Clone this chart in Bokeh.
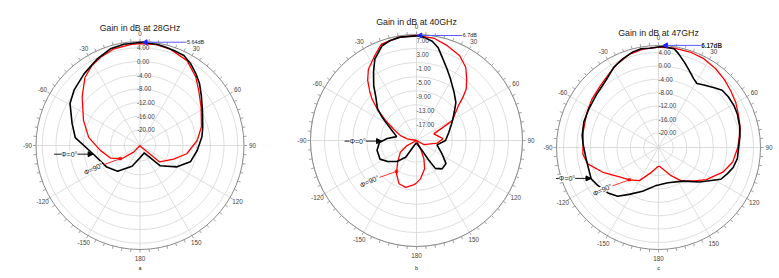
import numpy as np
from bokeh.plotting import figure
from bokeh.models import Range1d, Arrow, NormalHead, Label
from bokeh.core.properties import value
from bokeh.embed import file_html
from bokeh.resources import INLINE

# ---------------- data ----------------
titles = ["Gain in dB at 28GHz", "Gain in dB at 40GHz", "Gain in dB at 47GHz"]
panel_letters = ["a", "b", "c"]
series_names = ["\u03a6=0\u00b0", "\u03a6=90\u00b0"]
max_gain_db = [5.64, 6.7, 6.17]
max_gain_angle = [2, 1, 3]
max_gain_labels = ["5.64dB", "6.7dB", "6.17dB"]
ring_values_a = [-20, -16, -12, -8, -4, 0, 4]
ring_values_b = [-17, -13, -9, -5, -1, 3, 7]
ring_values_c = [-20, -16, -12, -8, -4, 0, 4]
angle_ticks = [-150, -120, -90, -60, -30, 0, 30, 60, 90, 120, 150, 180]

# 28 GHz
a_phi0_angle = [-180, -159, -139, -123, -101, -83, -72, -59, -50, -38, -26, -17, -9, 1, 10, 14, 20, 26, 32, 38, 44, 51, 61, 74, 82, 95, 108, 120, 135, 150, 180]
a_phi0_db = [-21.0, -18.1, -14.6, -13.0, -10.8, -5.5, -3.7, -0.7, 0.6, 2.0, 3.7, 5.0, 5.4, 5.6, 5.4, 5.2, 4.9, 4.7, 3.5, 2.0, 0.5, -1.5, -3.7, -5.5, -6.3, -7.8, -9.1, -12.1, -16.2, -22.1, -21.0]
a_phi90_angle = [-180, -150, -136, -126, -113, -97, -81, -66, -50, -39, -31, -24, -15, -5, 0, 9, 17, 29, 39, 47, 58, 73, 85, 100, 112, 130, 140, 150, 180]
a_phi90_db = [-25.0, -25.0, -21.9, -18.1, -15.2, -12.9, -9.4, -6.5, -2.5, 1.0, 2.7, 3.7, 4.7, 5.1, 5.2, 5.3, 5.0, 3.8, 1.3, -1.1, -3.5, -5.8, -7.8, -10.7, -14.0, -17.1, -24.0, -25.0, -25.0]

# 40 GHz
b_phi0_angle = [-180, -155, -147, -137, -126, -117, -104, -93, -86, -79, -71, -62, -56, -51, -43, -38, -32, -27, -20, -15, -9, 0, 4, 9, 13, 17, 23, 29, 38, 46, 53, 63, 76, 90, 102, 118, 128, 138, 146, 148, 151, 165, 180]
b_phi0_db = [-22.5, -21.5, -17.5, -15.0, -13.0, -11.5, -11.6, -12.6, -14.8, -17.4, -16.3, -14.0, -11.4, -8.9, -6.2, -3.4, -0.1, 2.9, 5.5, 6.2, 6.6, 6.6, 6.3, 5.4, 4.0, 1.7, -1.0, -3.2, -5.8, -7.6, -9.7, -11.8, -13.7, -14.9, -17.2, -14.9, -12.5, -12.3, -13.6, -16.5, -19.9, -22.0, -22.5]
b_phi90_angle = [-180, -177, -167, -158, -149, -139, -126, -118, -100, -80, -73, -64, -57, -52, -47, -44, -39, -34, -26, -20, -10, 0, 10, 18, 27, 34, 39, 44, 47, 50, 61, 69, 86, 97, 119, 140, 154, 158, 164, 174, 180]
b_phi90_db = [-11.1, -10.6, -9.5, -9.9, -12.1, -15.0, -17.5, -20.1, -23.5, -20.5, -18.4, -16.0, -12.7, -9.3, -5.9, -4.1, -1.1, 1.3, 3.8, 6.0, 6.6, 6.7, 6.3, 5.2, 3.9, 1.9, -0.5, -2.8, -5.1, -7.5, -11.5, -17.9, -15.6, -17.2, -20.8, -23.5, -20.5, -17.5, -14.8, -12.2, -11.1]

# 47 GHz
c_phi0_angle = [-180, -176, -160, -148, -140, -132, -122, -115, -99, -87, -81, -71, -61, -49, -38, -29, -22, -15, -10, -5, 2, 9, 12, 17, 22, 27, 31, 36, 43, 48, 54, 61, 67, 75, 82, 89, 98, 105, 111, 117, 130, 144, 165, 180]
c_phi0_db = [-13.2, -13.0, -10.5, -7.9, -5.4, -4.1, -3.0, -2.2, -2.5, -1.8, -1.3, -0.8, -0.6, 0.0, 1.1, 3.1, 4.2, 5.2, 5.6, 5.4, 5.8, 5.5, 4.3, 2.2, 0.3, -1.3, -2.1, -1.3, 0.05, 1.2, 1.4, 1.4, 1.2, 0.7, 0.2, -0.4, -0.6, -1.3, -2.4, -3.5, -8.4, -12.0, -13.5, -13.2]
c_phi90_angle = [-180, -174, -164, -150, -138, -127, -114, -103, -95, -78, -64, -54, -43, -33, -26, -17, -9, 0, 9, 19, 27, 36, 44, 52, 60, 68, 77, 90, 101, 111, 124, 133, 146, 156, 177, 180]
c_phi90_db = [-18.8, -18.3, -16.7, -13.0, -11.4, -9.8, -6.2, -2.7, -1.7, -1.4, -0.6, 0.2, 1.0, 2.3, 3.5, 4.8, 5.4, 5.6, 5.65, 5.65, 5.4, 4.7, 3.9, 3.05, 2.3, 1.4, 0.7, -0.7, -1.8, -3.8, -7.2, -9.8, -12.5, -15.2, -18.8, -18.8]

# ---------------- layout (pixel geometry of each polar panel) ----------------
W, H = 779, 278
panels = [
    dict(cx=139.5, cy=145, R=104, k=3.417, dbmin=-24.6, lab_dx=-3, lab_off=0.0, title_y=27,
         rings=ring_values_a, phi0=(a_phi0_angle, a_phi0_db), phi90=(a_phi90_angle, a_phi90_db),
         mk_len=43, arrow_ang=-100.5, arrow_len=39, m90_ang=-124),
    dict(cx=416, cy=140, R=106, k=3.517, dbmin=-23.16, lab_dx=0, lab_off=5.7, title_y=21.7,
         rings=ring_values_b, phi0=(b_phi0_angle, b_phi0_db), phi90=(b_phi90_angle, b_phi90_db),
         mk_len=44, arrow_ang=-91, arrow_len=37, m90_ang=-147),
    dict(cx=658, cy=147, R=102, k=3.34, dbmin=-24.44, lab_dx=0, lab_off=0.0, title_y=32.3,
         rings=ring_values_c, phi0=(c_phi0_angle, c_phi0_db), phi90=(c_phi90_angle, c_phi90_db),
         mk_len=37, arrow_ang=-114.6, arrow_len=35, m90_ang=-138),
]

FONT = "Liberation Sans"
GRID = "#d6d6d6"
AXC = "#8a8a8a"
TXT = "#444444"

p = figure(width=W, height=H, x_range=Range1d(0, W), y_range=Range1d(0, H),
           output_backend="svg", toolbar_location=None, min_border=0)
p.axis.visible = False
p.grid.visible = False
p.outline_line_color = None
p.background_fill_color = "white"
p.border_fill_color = "white"


def rad(db, P):
    return np.clip((np.asarray(db, float) - P["dbmin"]) * P["k"], 0, None)


def pxy(ang, r, P):
    t = np.radians(np.asarray(ang, float))
    return P["cx"] + r * np.sin(t), (H - P["cy"]) + r * np.cos(t)


for i, P in enumerate(panels):
    cx, cyu, R = P["cx"], H - P["cy"], P["R"]

    # rings
    ring_r = rad(P["rings"], P)
    p.circle(x=[cx] * len(ring_r), y=[cyu] * len(ring_r), radius=list(ring_r),
             fill_color=None, line_color=GRID, line_width=0.8)
    # spokes
    sp = np.arange(0, 360, 30)
    x1, y1 = pxy(sp, R, P)
    p.segment(x0=[cx] * len(sp), y0=[cyu] * len(sp), x1=x1, y1=y1, line_color=GRID, line_width=0.8)
    # outer circle + ticks
    p.circle(x=[cx], y=[cyu], radius=[R], fill_color=None, line_color=AXC, line_width=1)
    tk = np.arange(0, 360, 5)
    tx0, ty0 = pxy(tk, R, P)
    tx1, ty1 = pxy(tk, R + 3, P)
    p.segment(x0=tx0, y0=ty0, x1=tx1, y1=ty1, line_color=AXC, line_width=0.8)
    # angle labels
    ax, ay = pxy(angle_ticks, R + 8.5, P)
    p.text(x=ax, y=ay, text=[str(a) for a in angle_ticks], text_font=value(FONT),
           text_font_size=value("6.3px"), text_align="center", text_baseline="middle", text_color=TXT)
    # ring labels
    p.text(x=[cx + P["lab_dx"]] * len(ring_r), y=list(cyu + ring_r - P["lab_off"]),
           text=["%.2f" % v for v in P["rings"]], text_font=value(FONT),
           text_font_size=value("6.3px"), text_align="left", text_baseline="middle", text_color=TXT)
    # title and panel letter
    p.text(x=[cx], y=[H - P["title_y"]], text=[titles[i]], text_font=value(FONT),
           text_font_size=value("8.8px"), text_align="center", text_baseline="middle", text_color="#222222")
    p.text(x=[cx], y=[H - 267.5], text=[panel_letters[i]], text_font=value(FONT),
           text_font_size=value("5.5px"), text_align="center", text_baseline="middle", text_color="#222222")

    # curves
    ang0, db0 = P["phi0"]
    ang9, db9 = P["phi90"]
    rx, ry = pxy(ang9, rad(db9, P), P)
    p.line(rx, ry, line_color="#ff0000", line_width=1.3)
    bx, by = pxy(ang0, rad(db0, P), P)
    p.line(bx, by, line_color="black", line_width=1.6)

    # max gain marker
    mx, my = pxy([max_gain_angle[i]], rad([max_gain_db[i]], P), P)
    mx, my = float(mx[0]), float(my[0])
    p.segment(x0=[mx], y0=[my], x1=[mx + P["mk_len"]], y1=[my], line_color="#5a5aff", line_width=1)
    p.scatter(x=[mx + 2], y=[my], marker="triangle", angle=np.pi / 2, size=5,
              fill_color="#1f1fff", line_color="#1f1fff")
    p.text(x=[mx + P["mk_len"] + 0.5], y=[my], text=[max_gain_labels[i]], text_font=value(FONT),
           text_font_size=value("6.3px" if i == 2 else "5.4px"),
           text_font_style="bold" if i == 2 else "normal",
           text_align="left", text_baseline="middle", text_color="#222222")

    # phi = 0 annotation (arrow to black curve)
    ra = rad([np.interp(P["arrow_ang"], ang0, db0)], P)
    tipx, tipy = pxy([P["arrow_ang"]], ra, P)
    tipx, tipy = float(tipx[0]), float(tipy[0])
    p.add_layout(Arrow(end=NormalHead(size=5, fill_color="black", line_color="black", line_width=1),
                       x_start=tipx - P["arrow_len"], y_start=tipy, x_end=tipx, y_end=tipy,
                       line_color="black", line_width=0.9))
    p.add_layout(Label(x=tipx - 24, y=tipy, text=series_names[0], text_font=FONT, text_font_size="7px",
                       text_align="center", text_baseline="middle", text_color="#222222",
                       background_fill_color="white", background_fill_alpha=1.0))

    # phi = 90 annotation (pointer to red curve)
    rb = rad([np.interp(P["m90_ang"], ang9, db9)], P)
    qx, qy = pxy([P["m90_ang"]], rb, P)
    qx, qy = float(qx[0]), float(qy[0])
    p.segment(x0=[qx - 17], y0=[qy - 6], x1=[qx], y1=[qy], line_color="#ff0000", line_width=0.8)
    p.scatter(x=[qx], y=[qy], marker="square", size=2.5, fill_color="#ff0000", line_color="#ff0000",
              line_width=0.5)
    p.add_layout(Label(x=qx - 27, y=qy - 10, text=series_names[1], text_font=FONT, text_font_size="7px",
                       angle=25, angle_units="deg", text_align="center", text_baseline="middle",
                       text_color="#222222", background_fill_color="white", background_fill_alpha=1.0))

open("out.html", "w").write(file_html(p, INLINE))
